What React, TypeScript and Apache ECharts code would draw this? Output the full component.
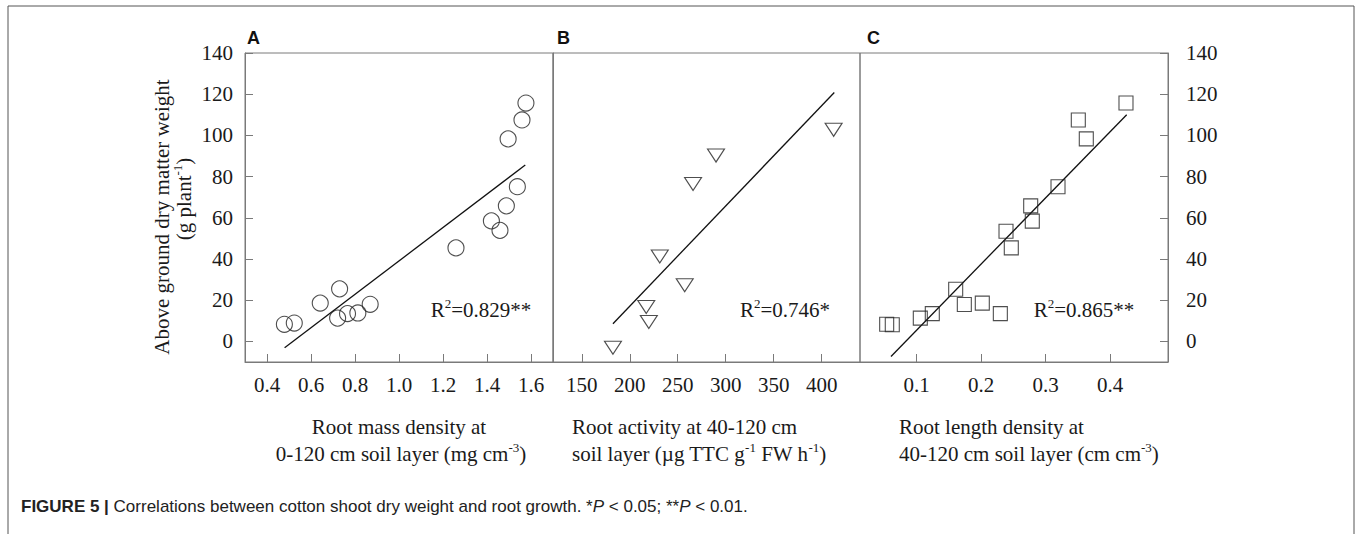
import React, { useEffect, useRef } from "react";
import * as echarts from "echarts";

// ---- data ----
const yTicks = [0, 20, 40, 60, 80, 100, 120, 140];
const xTicksA = [0.4, 0.6, 0.8, 1.0, 1.2, 1.4, 1.6];
const xTicksB = [150, 200, 250, 300, 350, 400];
const xTicksC = [0.1, 0.2, 0.3, 0.4];

// Panel A: root mass density (0-120 cm) vs above-ground dry matter
const rmdA = [0.479, 0.524, 0.642, 0.73, 0.721, 0.766, 0.813, 0.869, 1.259, 1.42, 1.459, 1.488, 1.538, 1.496, 1.559, 1.577];
const dmA = [8.3, 8.9, 18.6, 25.5, 11.3, 13.5, 13.8, 18.0, 45.4, 58.5, 53.9, 65.8, 75.1, 98.3, 107.5, 115.7];
const fitA = [[0.48, -3.1], [1.574, 85.6]];

// Panel B: root activity (40-120 cm)
const raB = [182.5, 217.2, 219.9, 231.3, 257.3, 266.0, 289.9, 412.5];
const dmB = [-3.1, 16.7, 9.4, 41.2, 27.3, 76.4, 90.2, 102.7];
const fitB = [[182.5, 8.6], [413.2, 120.8]];

// Panel C: root length density (40-120 cm)
const rldC = [0.0534, 0.0621, 0.1056, 0.1242, 0.1605, 0.1739, 0.2018, 0.2298, 0.2386, 0.2468, 0.2769, 0.2794, 0.3193, 0.3508, 0.3632, 0.4248];
const dmC = [8.3, 8.1, 11.3, 13.5, 25.3, 17.9, 18.6, 13.5, 53.5, 45.4, 65.8, 58.4, 75.1, 107.5, 98.3, 115.7];
const fitC = [[0.0601, -7.3], [0.4259, 110.0]];

const r2Labels = ["0.829**", "0.746*", "0.865**"];

const SERIF = "'Liberation Serif', 'Times New Roman', serif";
const SANS = "'Liberation Sans', Arial, sans-serif";
const AX = "#7a7a7a";
const TXT = "#1a1a1a";

const zip = (xs: number[], ys: number[]) => xs.map((x, i) => [x, ys[i]]);

export default function App() {
  const ref = useRef<HTMLDivElement>(null);
  useEffect(() => {
    if (!ref.current) return;
    const chart = echarts.init(ref.current, undefined, { renderer: "svg" });

    const grids = [
      { left: 245, top: 53, width: 308, height: 309 },
      { left: 553, top: 53, width: 307, height: 309 },
      { left: 860, top: 53, width: 308, height: 309 },
    ].map((g) => ({ ...g, show: true, borderColor: AX, borderWidth: 1, backgroundColor: "transparent" }));

    const labelStyle = { fontFamily: SERIF, fontSize: 21, color: TXT };
    const mkX = (idx: number, min: number, max: number, ticks: number[], dec: number) => ({
      type: "value",
      gridIndex: idx,
      min,
      max,
      axisLine: { show: true, onZero: false, lineStyle: { color: AX } },
      axisTick: { show: true, inside: true, length: 8, customValues: ticks, lineStyle: { color: AX } },
      axisLabel: {
        ...labelStyle,
        margin: 12,
        customValues: ticks,
        formatter: (v: number) => (dec ? v.toFixed(dec) : String(v)),
      },
      splitLine: { show: false },
    });
    const mkY = (idx: number, pos: string, showLabels: boolean, margin: number) => ({
      type: "value",
      gridIndex: idx,
      position: pos,
      min: -10,
      max: 140,
      axisLine: { show: true, onZero: false, lineStyle: { color: AX } },
      axisTick: { show: showLabels, inside: true, length: 8, customValues: yTicks, lineStyle: { color: AX } },
      axisLabel: { show: showLabels, ...labelStyle, margin, customValues: yTicks },
      splitLine: { show: false },
    });

    const marker = { color: "transparent", borderColor: "#222", borderWidth: 1.1 };
    const lineS = (i: number, d: number[][]) => ({
      type: "line",
      xAxisIndex: i,
      yAxisIndex: i,
      data: d,
      symbol: "none",
      lineStyle: { color: "#111", width: 1.3 },
      z: 3,
    });

    const rich = {
      n: { fontFamily: SERIF, fontSize: 21, color: TXT, lineHeight: 26 },
      s: { fontFamily: SERIF, fontSize: 13, color: TXT, lineHeight: 13, verticalAlign: "top" },
    };
    const txt = (x: number, y: number, text: string, align = "center", extra: any = {}) => ({
      type: "text",
      x,
      y,
      ...extra,
      style: { text, rich, align, verticalAlign: "middle", fontFamily: SERIF, fontSize: 21, fill: TXT },
    });

    chart.setOption({
      animation: false,
      grid: grids,
      xAxis: [mkX(0, 0.3, 1.7, xTicksA, 1), mkX(1, 120, 440, xTicksB, 0), mkX(2, 0.012, 0.49, xTicksC, 1)],
      yAxis: [mkY(0, "left", true, 12), mkY(1, "left", false, 0), mkY(2, "right", true, 18)],
      series: [
        lineS(0, fitA),
        lineS(1, fitB),
        lineS(2, fitC),
        { type: "scatter", xAxisIndex: 0, yAxisIndex: 0, data: zip(rmdA, dmA), symbol: "circle", symbolSize: 16, itemStyle: marker, z: 4 },
        { type: "scatter", xAxisIndex: 1, yAxisIndex: 1, data: zip(raB, dmB), symbol: "triangle", symbolRotate: 180, symbolSize: [17, 13], itemStyle: marker, z: 4 },
        { type: "scatter", xAxisIndex: 2, yAxisIndex: 2, data: zip(rldC, dmC), symbol: "rect", symbolSize: 14, itemStyle: marker, z: 4 },
      ],
      graphic: [
        { type: "rect", shape: { x: 8, y: 6, width: 1346, height: 620 }, style: { fill: "none", stroke: "#555", lineWidth: 1 } },
        // panel letters
        ...["A", "B", "C"].map((l, i) => ({
          type: "text",
          x: [247, 557, 867][i],
          y: 38,
          style: { text: l, fontFamily: SANS, fontWeight: "bold", fontSize: 18, fill: "#111", align: "left", verticalAlign: "middle" },
        })),
        // R2 labels
        ...r2Labels.map((v, i) => txt([481, 785, 1084][i], 310, `{n|R}{s|2}{n|=${v}}`)),
        // y-axis title
        txt(162, 217, "Above ground dry matter weight", "center", { rotation: Math.PI / 2 }),
        txt(184, 199, "{n|(g plant}{s|-1}{n|)}", "center", { rotation: Math.PI / 2 }),
        // x-axis titles
        txt(399, 427, "Root mass density at"),
        txt(401, 454, "{n|0-120 cm soil layer (mg cm}{s|-3}{n|)}"),
        txt(572, 427, "Root activity at 40-120 cm", "left"),
        txt(572, 454, "{n|soil layer (\u00b5g TTC g}{s|-1}{n| FW h}{s|-1}{n|)}", "left"),
        txt(899, 427, "Root length density at", "left"),
        txt(899, 454, "{n|40-120 cm soil layer (cm cm}{s|-3}{n|)}", "left"),
        // caption
        {
          type: "text",
          x: 21,
          y: 506,
          style: {
            text: "{b|FIGURE 5 |} {r|Correlations between cotton shoot dry weight and root growth. *}{i|P}{r| < 0.05; **}{i|P}{r| < 0.01.}",
            rich: {
              b: { fontFamily: SANS, fontSize: 17, fontWeight: "bold", fill: "#222" },
              r: { fontFamily: SANS, fontSize: 17, fill: "#222" },
              i: { fontFamily: SANS, fontSize: 17, fontStyle: "italic", fill: "#222" },
            },
            fontFamily: SANS,
            fontSize: 17,
            align: "left",
            verticalAlign: "middle",
          },
        },
      ],
    });
    return () => chart.dispose();
  }, []);
  return <div ref={ref} style={{ position: "fixed", left: 0, top: 0, width: 1358, height: 534, background: "#fff" }} />;
}
